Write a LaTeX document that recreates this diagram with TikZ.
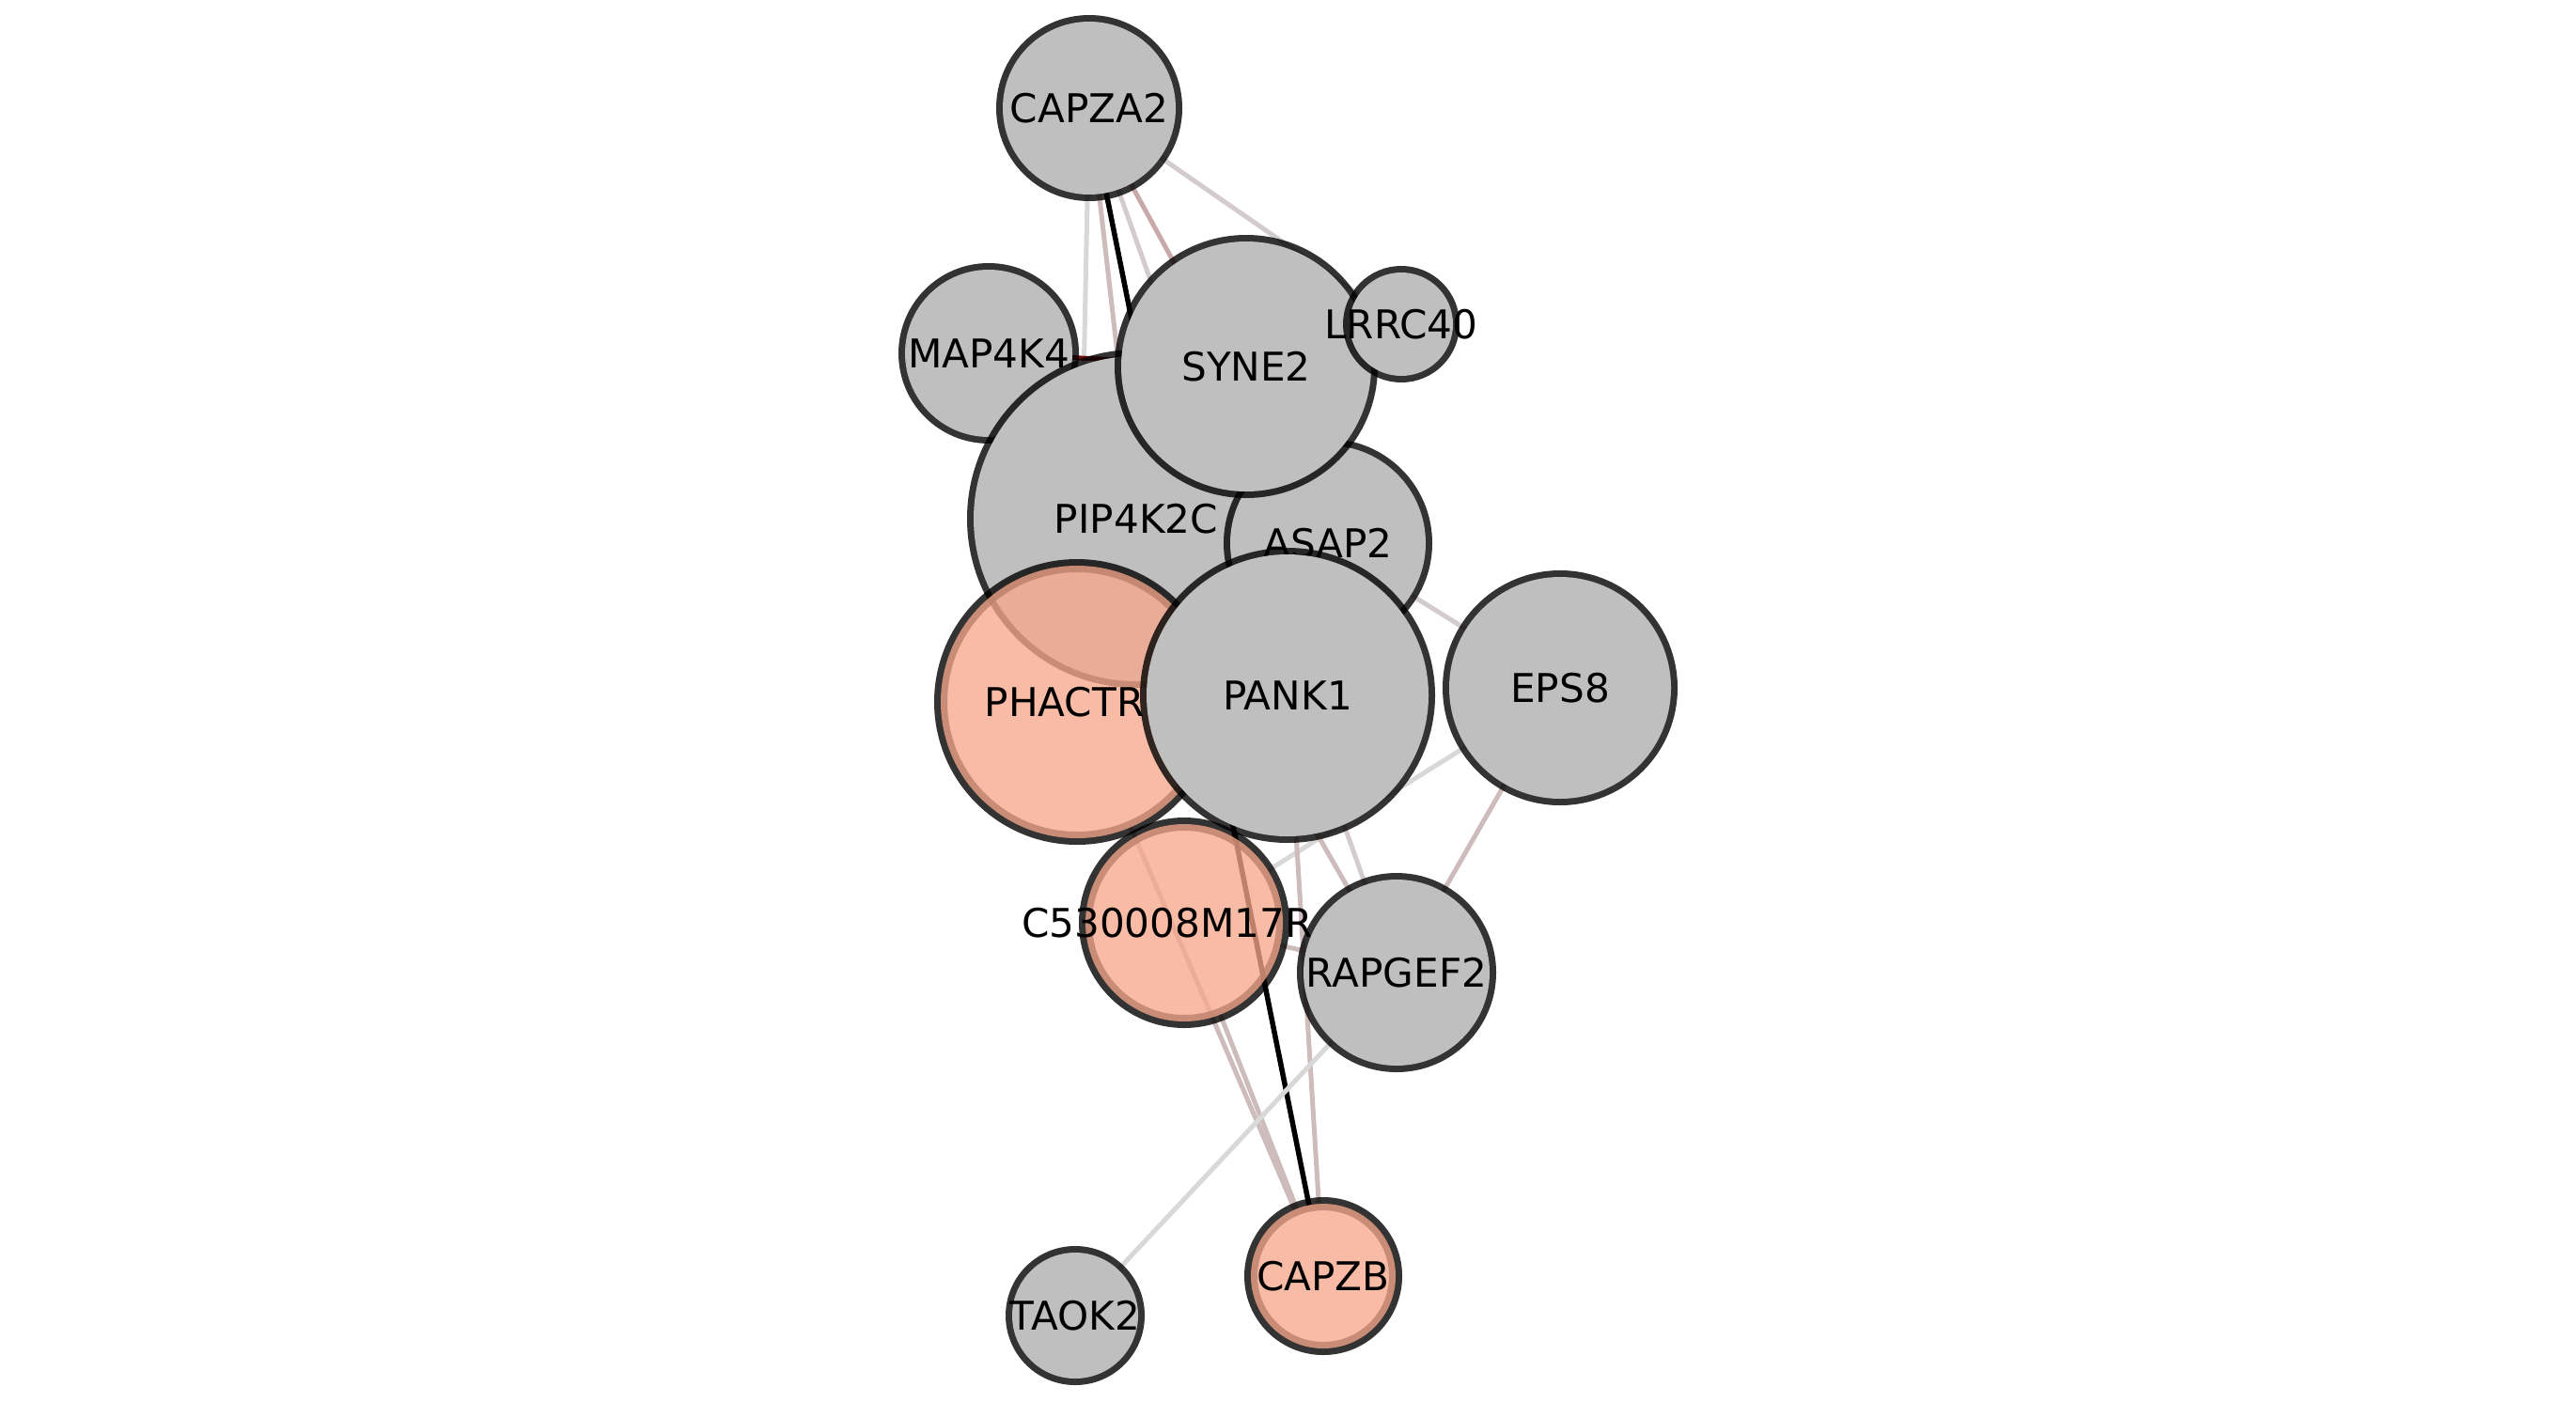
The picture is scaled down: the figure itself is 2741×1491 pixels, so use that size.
\documentclass[tikz,border=0pt]{standalone}
\usepackage{fontspec}
\setmainfont{DejaVu Sans}
\usetikzlibrary{backgrounds}

\definecolor{nodegrey}{RGB}{191,191,191}
\definecolor{nodesalmon}{RGB}{246,168,139}
\definecolor{linkgrey}{RGB}{216,216,216}
\definecolor{linkpale}{RGB}{212,204,204}
\definecolor{linkrose}{RGB}{206,188,188}
\definecolor{linkrosedark}{RGB}{200,170,170}
\definecolor{linkdarkred}{RGB}{110,10,10}

\newcommand{\genename}[1]{\makebox[0pt]{#1}}

\begin{document}
\begin{tikzpicture}[x=0.1mm, y=-0.1mm]

\tikzstyle{vertex_grey} = [circle, inner sep=0pt, outer sep=0pt, preaction={draw=black, draw opacity=0.8, line width=1.4mm}, fill=nodegrey, font=\fontsize{12}{14}\selectfont]
\tikzstyle{vertex_salmon} = [vertex_grey, fill=nodesalmon, fill opacity=0.77, text opacity=1]
\tikzstyle{link_grey} = [line width=0.5mm, draw=linkgrey]
\tikzstyle{link_pale} = [line width=0.5mm, draw=linkpale]
\tikzstyle{link_rose} = [line width=0.5mm, draw=linkrose]
\tikzstyle{link_rosedark} = [line width=0.5mm, draw=linkrosedark]
\tikzstyle{link_black} = [line width=0.55mm, draw=black]
\tikzstyle{link_darkred} = [line width=0.5mm, draw=linkdarkred]

\useasboundingbox (0,0) rectangle (2741,1491);

%------------------------------------------------------------
	\node[vertex_grey, minimum size=17.8mm] (map4k4) at (1052,376) {\genename{MAP4K4}};
	\node[vertex_grey, minimum size=18.4mm] (capza2) at (1159,115) {\genename{CAPZA2}};
	\node[vertex_grey, minimum size=34.6mm] (pip4k2c) at (1209,552) {\genename{PIP4K2C}};
	\node[vertex_salmon, minimum size=29.0mm] (phactr1) at (1146,747) {\genename{PHACTR\phantom{1}}};
	\node[vertex_grey, minimum size=20.8mm] (asap2) at (1413,578) {\genename{ASAP2}};
	\node[vertex_grey, minimum size=26.6mm] (syne2) at (1326,390) {\genename{SYNE2}};
	\node[vertex_grey, minimum size=11.0mm] (lrrc40) at (1491,345) {\genename{LRRC40}};

%------------------------------------------------------------
	\node[vertex_grey, minimum size=30.0mm] (pank1) at (1370,740) {\genename{PANK1}};
	\node[vertex_grey, minimum size=23.6mm] (eps8) at (1660,732) {\genename{EPS8}};
	\node[vertex_salmon, minimum size=21.0mm] (c530) at (1260,982) {\genename{C530008M17R\phantom{ik}}};
	\node[vertex_grey, minimum size=19.8mm] (rapgef2) at (1486,1035) {\genename{RAPGEF2}};

%------------------------------------------------------------
	\node[vertex_grey, minimum size=13.4mm] (taok2) at (1144,1400) {\genename{TAOK2}};
	\node[vertex_salmon, minimum size=15.4mm] (capzb) at (1408,1358) {\genename{CAPZB}};

%------------------------------------------------------------
\begin{pgfonlayer}{background}
	\path[link_grey] (capza2) edge (phactr1);
	\path[link_pale] (capza2) edge (lrrc40);
	\path[link_rose] (capza2) edge (pip4k2c);
	\path[link_pale] (capza2) edge (rapgef2);
	\path[link_rosedark] (capza2) edge (asap2);
	\path[link_black] (capza2) edge (capzb);
	\path[link_darkred] (map4k4) edge (syne2);

	\path[link_pale] (asap2) edge (eps8);
	\path[link_rose] (eps8) edge (rapgef2);
	\path[link_grey] (eps8) edge (c530);
	\path[link_rose] (pip4k2c) edge (rapgef2);

	\path[link_rose] (pank1) edge (capzb);
	\path[link_rose] (phactr1) edge (capzb);
	\path[link_rose] (c530) edge (capzb);
	\path[link_rose] (c530) edge (rapgef2);
	\path[link_grey] (taok2) edge (rapgef2);
\end{pgfonlayer}

\end{tikzpicture}
\end{document}
